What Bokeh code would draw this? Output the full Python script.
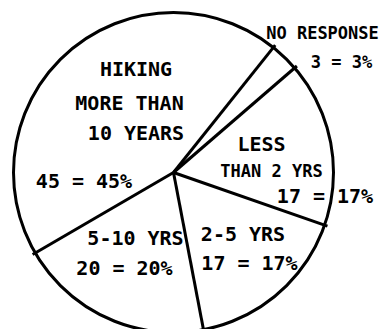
import math
from bokeh.plotting import figure
from bokeh.models import Range1d
from bokeh.core.properties import value
from bokeh.embed import file_html
from bokeh.resources import INLINE

# Survey responses, listed counter-clockwise starting at the lower right
categories = ["LESS\nTHAN 2 YRS", "NO RESPONSE", "HIKING\nMORE THAN\n10 YEARS", "5-10 YRS", "2-5 YRS"]
counts = [17, 3, 45, 20, 17]
percents = [17, 3, 45, 20, 17]

# Layout (pixel-based data space, pie centred at the origin)
RADIUS = 160
START_DEG = -19.2
FONT = "DejaVu Sans Mono"

p = figure(width=381, height=329, output_backend="svg", toolbar_location=None,
           x_range=Range1d(-173, 208), y_range=Range1d(-157, 172),
           min_border=0, outline_line_color=None)
p.axis.visible = False
p.grid.visible = False
p.background_fill_color = "white"
p.border_fill_color = "white"

# Outer circle
p.circle(x=[0], y=[0], radius=RADIUS, radius_units="data",
         fill_color=None, line_color="black", line_width=3)

# Slice boundaries from cumulative shares
total = sum(counts)
bounds = [START_DEG]
for c in counts:
    bounds.append(bounds[-1] + c / total * 360.0)
edges = bounds[:-1]
x1 = [(RADIUS + 3) * math.cos(math.radians(a)) for a in edges]
y1 = [(RADIUS + 3) * math.sin(math.radians(a)) for a in edges]
p.segment(x0=[0] * len(edges), y0=[0] * len(edges), x1=x1, y1=y1,
          line_color="black", line_width=3)

# Label placement (x, y of each text line centre, in the same data space)
def px(x, y):
    return x - 173, 172 - y

label_lines = [
    # LESS THAN 2 YRS
    [("LESS", 261, 143, 20), ("THAN 2 YRS", 271, 170, 17),
     (f"{counts[0]} = {percents[0]}%", 324.5, 195, 20)],
    # NO RESPONSE
    [("NO RESPONSE", 322, 32, 17), (f"{counts[1]} = {percents[1]}%", 341, 61, 17)],
    # HIKING MORE THAN 10 YEARS
    [("HIKING", 135.5, 68, 20), ("MORE THAN", 129, 102, 20), ("10 YEARS", 135.5, 132, 20),
     (f"{counts[2]} = {percents[2]}%", 83.5, 180, 20)],
    # 5-10 YRS
    [("5-10 YRS", 135, 237, 20), (f"{counts[3]} = {percents[3]}%", 124, 267, 20)],
    # 2-5 YRS
    [("2-5 YRS", 242.5, 233, 20), (f"{counts[4]} = {percents[4]}%", 249, 262, 20)],
]

for group in label_lines:
    for txt, lx, ly, size in group:
        dx, dy = px(lx, ly)
        p.text(x=[dx], y=[dy], text=[txt], text_font=value(FONT),
               text_font_size=f"{size}px", text_font_style="bold",
               text_align="center", text_baseline="middle", text_color="black")

open("out.html", "w").write(file_html(p, INLINE))
